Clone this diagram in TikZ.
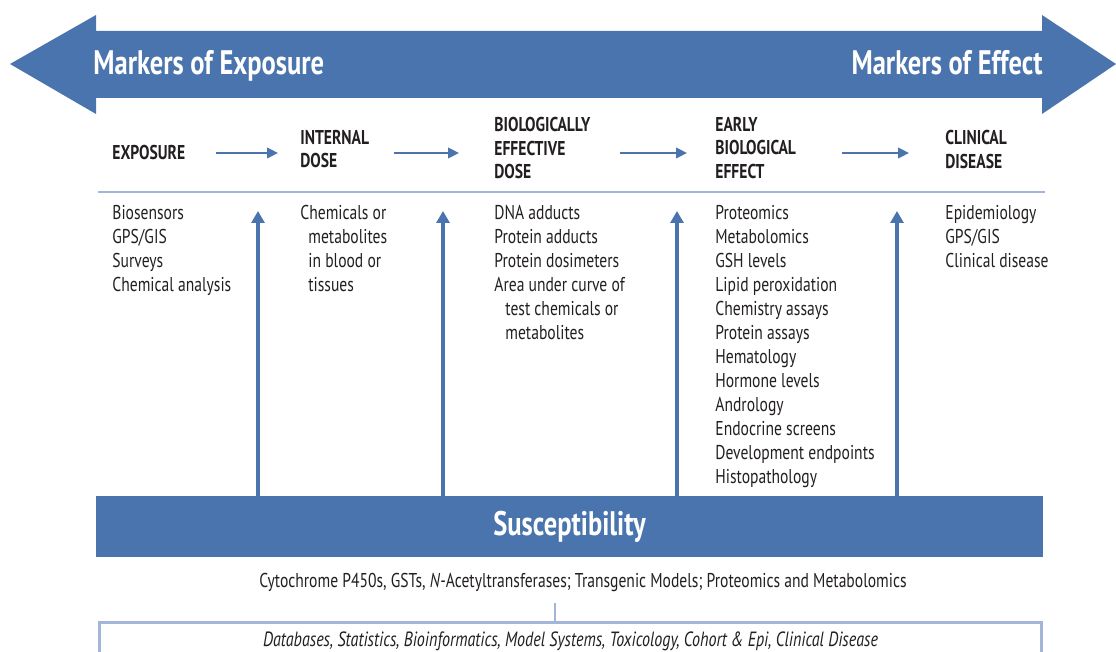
\documentclass[tikz,border=0pt]{standalone}
\usepackage{fontspec}
\setmainfont{PT Sans}[FakeStretch=0.78]
\usetikzlibrary{arrows.meta,positioning}
\definecolor{mblue}{RGB}{74,116,173}
\definecolor{lblue}{RGB}{163,182,217}
\definecolor{ink}{RGB}{35,31,32}
\tikzstyle{head} = [anchor=north west, inner sep=0pt, align=left, text=ink,
    font=\fontsize{10}{11.7}\selectfont\bfseries]
\tikzstyle{list} = [anchor=north west, inner sep=0pt, align=left, text=ink,
    font=\fontsize{10}{12}\selectfont]
\tikzstyle{title} = [inner sep=0pt, text=white, font=\fontsize{17}{20}\selectfont\bfseries]
\tikzstyle{bar} = [rectangle, fill=mblue, inner sep=0pt, minimum width=473.5pt, minimum height=30.5pt]
\tikzstyle{line} = [draw=mblue, line width=1pt, -{Triangle[length=5.5pt,width=5.3pt]}]
\tikzstyle{up} = [draw=mblue, line width=1.6pt, -{Triangle[length=6pt,width=6.5pt]}]

\begin{document}
\begin{tikzpicture}[x=0.5pt, y=-0.5pt]
    \useasboundingbox (0,0) rectangle (1116,652);
    % Big double arrow
    \fill [mblue] (10,64) -- (96,15) -- (96,31) -- (1042,31) -- (1042,15) -- (1116,64)
        -- (1042,114) -- (1042,98) -- (96,98) -- (96,114) -- cycle;
    \node [title, anchor=base west] (A) at (93,75) {Markers of Exposure};
    \node [title, anchor=base east] (B) at (1043,75) {Markers of Effect};

    % Place nodes
    \node [head] (1) at (112,145) {EXPOSURE};
    \node [head] (2) at (300,130) {INTERNAL\\DOSE};
    \node [head] (3) at (494,117) {BIOLOGICALLY\\EFFECTIVE\\DOSE};
    \node [head] (4) at (715,117) {EARLY\\BIOLOGICAL\\EFFECT};
    \node [head] (5) at (945,130) {CLINICAL\\DISEASE};
    \draw [lblue, line width=1pt] (98,192) -- (1045,192);

    \node [list] (1a) at (112,205) {Biosensors\\GPS/GIS\\Surveys\\Chemical analysis};
    \node [list] (2a) at (300,205) {Chemicals or\\\hspace*{4pt}metabolites\\\hspace*{4pt}in blood or\\\hspace*{4pt}tissues};
    \node [list] (3a) at (494,205) {DNA adducts\\Protein adducts\\Protein dosimeters\\Area under curve of\\\hspace*{5.5pt}test chemicals or\\\hspace*{5.5pt}metabolites};
    \node [list] (4a) at (715,205) {Proteomics\\Metabolomics\\GSH levels\\Lipid peroxidation\\Chemistry assays\\Protein assays\\Hematology\\Hormone levels\\Andrology\\Endocrine screens\\Development endpoints\\Histopathology};
    \node [list] (5a) at (945,205) {Epidemiology\\GPS/GIS\\Clinical disease};

    \node [bar, title] (6) at (569.5,526.5) {Susceptibility};
    \node [list, anchor=center] (7) at (583,582.5) {Cytochrome P450s, GSTs, \textit{N}-Acetyltransferases; Transgenic Models; Proteomics and Metabolomics};
    \node [rectangle, draw=lblue, line width=1.3pt, anchor=north, minimum width=471pt, minimum height=19pt,
        font=\fontsize{10.3}{12}\selectfont\itshape, text=ink] (8) at (570.5,621) {Databases, Statistics, Bioinformatics, Model Systems, Toxicology, Cohort \& Epi, Clinical Disease};

    % Draw edges
    \coordinate (ax) at (0,153);
    \path [line, shorten <=15pt, shorten >=11pt] (1.east |- ax) -- (2.west |- ax);
    \path [line, shorten <=12pt, shorten >=17.5pt] (2.east |- ax) -- (3.west |- ax);
    \path [line, shorten <=14.5pt, shorten >=14pt] (3.east |- ax) -- (4.west |- ax);
    \path [line, shorten <=23pt, shorten >=18pt] (4.east |- ax) -- (5.west |- ax);

    \coordinate (t1) at (258,211);
    \coordinate (t2) at (443,211);
    \coordinate (t3) at (677,211);
    \coordinate (t4) at (897,211);
    \path [up] (t1 |- 6.north) -- (t1);
    \path [up] (t2 |- 6.north) -- (t2);
    \path [up] (t3 |- 6.north) -- (t3);
    \path [up] (t4 |- 6.north) -- (t4);

    \coordinate (lk) at (555,603);
    \draw [lblue, line width=0.8pt] (lk) -- (lk |- 8.north);
\end{tikzpicture}
\end{document}
